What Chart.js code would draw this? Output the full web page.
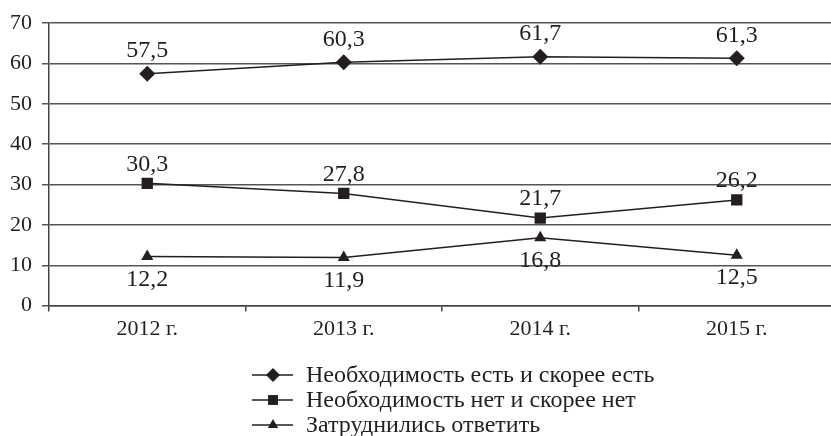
<!DOCTYPE html>
<html lang="ru">
<head>
<meta charset="UTF-8">
<title>Необходимость</title>
<script src="https://cdn.jsdelivr.net/npm/chart.js"></script>
<style>
  html, body { margin: 0; padding: 0; background: #fff; overflow: hidden; }
  #wrap { width: 843px; height: 436px; }
</style>
</head>
<body>
<div id="wrap"><canvas id="myChart"></canvas></div>
<script>
// data
const years = ['2012 г.', '2013 г.', '2014 г.', '2015 г.'];
const needYes = [57.5, 60.3, 61.7, 61.3];
const needNo = [30.3, 27.8, 21.7, 26.2];
const hardToSay = [12.2, 11.9, 16.8, 12.5];
const seriesNames = [
  'Необходимость есть и скорее есть',
  'Необходимость нет и скорее нет',
  'Затруднились ответить'
];
const yTicks = [0, 10, 20, 30, 40, 50, 60, 70];

const ink = '#231f20';
const font = '"Liberation Serif", "Times New Roman", serif';

// value labels: above for first two series, below for the third
const valueLabels = {
  id: 'valueLabels',
  afterDatasetsDraw(chart) {
    const ctx = chart.ctx;
    ctx.save();
    ctx.font = '24px ' + font;
    ctx.fillStyle = ink;
    ctx.textAlign = 'center';
    ctx.textBaseline = 'middle';
    chart.data.datasets.forEach((ds, i) => {
      chart.getDatasetMeta(i).data.forEach((pt, j) => {
        const txt = ds.data[j].toFixed(1).replace('.', ',');
        const dy = i === 2 ? 23 : (i === 0 ? -23 : -19);
        ctx.fillText(txt, pt.x, pt.y + dy);
      });
    });
    ctx.restore();
  }
};

// legend: short line with the marker in the middle, then the name
const lineLegend = {
  id: 'lineLegend',
  afterDraw(chart) {
    const ctx = chart.ctx;
    const left = 252;
    const rows = [375, 400, 425];
    ctx.save();
    chart.data.datasets.forEach((ds, i) => {
      const y = rows[i];
      ctx.strokeStyle = ink;
      ctx.lineWidth = 1.5;
      ctx.beginPath();
      ctx.moveTo(left, y);
      ctx.lineTo(left + 41, y);
      ctx.stroke();
      ctx.fillStyle = ink;
      Chart.helpers.drawPoint(ctx, {
        pointStyle: ds.pointStyle,
        radius: ds.pointRadius - 1,
        borderWidth: 0
      }, left + 21, y);
      ctx.font = '24px ' + font;
      ctx.textAlign = 'left';
      ctx.textBaseline = 'middle';
      ctx.fillText(ds.label, left + 54, y + 1);
    });
    ctx.restore();
  }
};

function series(label, data, style, r) {
  return {
    label: label,
    data: data,
    borderColor: ink,
    borderWidth: 1.5,
    backgroundColor: ink,
    pointBackgroundColor: ink,
    pointBorderColor: ink,
    pointBorderWidth: 0,
    pointStyle: style,
    pointRadius: r,
    pointHoverRadius: r,
    tension: 0
  };
}

new Chart(document.getElementById('myChart'), {
  type: 'line',
  data: {
    labels: years,
    datasets: [
      series(seriesNames[0], needYes, 'rectRot', 8),
      series(seriesNames[1], needNo, 'rect', 8),
      series(seriesNames[2], hardToSay, 'triangle', 7)
    ]
  },
  options: {
    responsive: true,
    maintainAspectRatio: false,
    animation: false,
    layout: { padding: { top: 6, right: 0, bottom: 90, left: 0 } },
    plugins: { legend: { display: false }, tooltip: { enabled: false } },
    scales: {
      x: {
        offset: true,
        grid: { offset: true, drawOnChartArea: false, drawTicks: true, tickLength: 6, color: '#444', lineWidth: 1.5 },
        border: { display: true, color: '#444', width: 1.5 },
        ticks: { color: ink, font: { family: font, size: 22 }, padding: 4 }
      },
      y: {
        min: 0,
        max: 70,
        afterBuildTicks(axis) { axis.ticks = yTicks.map(v => ({ value: v })); },
        grid: { color: '#555', lineWidth: 1.5, tickLength: 7 },
        border: { display: true, color: '#444', width: 1.5 },
        ticks: { color: ink, font: { family: font, size: 22 }, padding: 10 }
      }
    }
  },
  plugins: [valueLabels, lineLegend]
});
</script>
</body>
</html>
